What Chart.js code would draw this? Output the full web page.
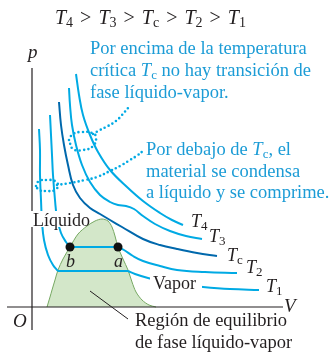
<!DOCTYPE html>
<html>
<head>
<meta charset="utf-8">
<script src="https://cdn.jsdelivr.net/npm/chart.js@4"></script>
<style>
  body { margin: 0; background: #fff; }
  #chart { display: block; }
</style>
</head>
<body>
<canvas id="chart" width="333" height="353"></canvas>
<script>
const ctx = document.getElementById("chart");

// isotherms, [V, p] (arbitrary units, origin at O)
const t4 = [[44,233],[47,212],[51,192],[58,172],[66,155],[78,137],[95,120],[111,106],[128,94],[140,87],[151,82]];
const t3 = [[37,219],[38,202],[40,182],[44,162],[50,142],[58,125],[68,112],[78,105],[86,102],[94,101],[102,98],[111,91],[123,83],[138,76],[154,71],[170,68]];
const tc = [[27,205],[29,182],[32,162],[36,142],[41,122],[48,109],[58,99],[68,93],[78,87],[90,80],[111,68],[128,62],[145,58],[165,54],[185,51]];
const t2Liquid = [[18,192],[19,172],[20,152],[21,132],[23,107],[25,89],[29,74],[34,65],[38,60]];
const t2Vapor = [[86,60],[92,57],[101,51],[111,46],[128,41],[145,37],[173,35],[205,34]];
const t1Liquid = [[7,178],[8,157],[8,132],[9,107],[10,85],[12,67],[16,52],[21,42],[26,36]];
const t1Vapor = [[96,36],[103,33],[116,29],[133,25],[153,22],[171,20],[198,18],[227,17]];

// horizontal (coexistence) parts
const t2Plateau = [[38,60],[86,60]];
const t1Plateau = [[26,36],[96,36]];

// liquid-vapour dome
const dome = [[15,0],[18,10],[20,17],[23,27],[26,37],[31,48],[38,60],[46,73],[55,81],[63,86],[70,88],[76,86],[80,80],[83,71],[86,60],[91,48],[96,37],[100,25],[104,15],[110,7],[117,2],[124,0]];

// states b and a
const states = [[38,60],[86,60]];

// dotted call-outs
const ringHigh = [[37,167],[41,173],[50,175],[60,174],[64,170],[61,161],[51,157],[41,158],[37,167]];
const tailHigh = [[61,173],[68,177],[76,181],[84,186],[90,192],[96,199]];
const ringLow = [[4,121],[7,126],[15,127],[23,126],[26,122],[23,117],[15,116],[7,117],[4,121]];
const tailLow = [[25,122],[38,124],[53,127],[65,130],[78,136],[88,141],[98,147],[106,152],[111,156]];

// axes and pointer
const axisP = [[0,-23],[0,239]];
const axisV = [[-25,0],[251,0]];
const pointer = [[58,16],[96,-12]];

const light = "rgb(0,170,228)";
const dark = "rgb(0,104,172)";
const textBlue = "rgb(28,156,214)";

function pts(arr) {
  return arr.map(([x, y]) => ({ x, y }));
}

function line(arr, color, width, order, extra) {
  return Object.assign({
    data: pts(arr),
    showLine: true,
    borderColor: color,
    borderWidth: width,
    pointRadius: 0,
    tension: 0.4,
    fill: false,
    order: order,
  }, extra || {});
}

const dotted = { borderDash: [0, 4.4], borderCapStyle: "round", tension: 0.5 };

// draw a row of text pieces: "i" italic, "s" subscript, number = extra gap
function runs(c, x, y, parts, size, color) {
  c.fillStyle = color;
  c.textAlign = "left";
  c.textBaseline = "alphabetic";
  for (const [t, s] of parts) {
    if (typeof t === "number") { x += t; continue; }
    const sub = s === "s";
    c.font = (s === "i" ? "italic " : "") + (sub ? Math.round(size * 0.7) : size) + "px 'Liberation Serif'";
    c.fillText(t, x, y + (sub ? 3 : 0));
    x += c.measureText(t).width;
  }
  return x;
}

const gt = [[7], [">", ""], [7]];

const labels = {
  id: "labels",
  afterDatasetsDraw(chart) {
    const c = chart.ctx;
    c.save();
    c.fillStyle = "#fff";
    c.fillRect(31, 211, 40, 16);
    c.fillRect(150, 276, 52, 15);

    const k = "#231f20";
    runs(c, 55, 24, [["T","i"],["4","s"],...gt,["T","i"],["3","s"],...gt,["T","i"],["c","s"],...gt,["T","i"],["2","s"],...gt,["T","i"],["1","s"]], 20, k);
    runs(c, 28, 58, [["p","i"]], 19, k);
    runs(c, 284, 312, [["V","i"]], 19, k);
    runs(c, 13, 327, [["O","i"]], 19, k);
    runs(c, 33, 226, [["Líquido",""]], 18, k);
    runs(c, 66, 267, [["b","i"]], 18, k);
    runs(c, 114, 267, [["a","i"]], 18, k);
    runs(c, 153, 289, [["Vapor",""]], 18, k);
    runs(c, 135, 326, [["Región de equilibrio",""]], 18.5, k);
    runs(c, 135, 348, [["de fase líquido-vapor",""]], 18.5, k);

    runs(c, 191, 227, [["T","i"],["4","s"]], 18, k);
    runs(c, 209, 242, [["T","i"],["3","s"]], 18, k);
    runs(c, 227, 261, [["T","i"],["c","s"]], 18, k);
    runs(c, 246, 273, [["T","i"],["2","s"]], 18, k);
    runs(c, 266, 292, [["T","i"],["1","s"]], 18, k);

    runs(c, 90, 54, [["Por encima de la temperatura",""]], 18.5, textBlue);
    runs(c, 90, 76, [["crítica ",""],["T","i"],["c","s"],[" no hay transición de",""]], 18.5, textBlue);
    runs(c, 90, 98, [["fase líquido-vapor.",""]], 18.5, textBlue);
    runs(c, 146, 155, [["Por debajo de ",""],["T","i"],["c","s"],[", el",""]], 18.5, textBlue);
    runs(c, 146, 177, [["material se condensa",""]], 18.5, textBlue);
    runs(c, 146, 198, [["a líquido y se comprime.",""]], 18.5, textBlue);
    c.restore();
  },
};

new Chart(ctx, {
  type: "scatter",
  data: {
    datasets: [
      {
        data: pts(states),
        pointRadius: 4.5,
        pointBackgroundColor: "#111",
        pointBorderWidth: 0,
        showLine: false,
        order: 0,
      },
      line(t4, light, 2, 3),
      line(t3, light, 2, 3),
      line(tc, dark, 2, 3),
      line(t2Liquid, light, 2, 3),
      line(t2Plateau, light, 2, 3),
      line(t2Vapor, light, 2, 3),
      line(t1Liquid, light, 2, 3),
      line(t1Plateau, light, 2, 3),
      line(t1Vapor, light, 2, 3),
      line(ringHigh, light, 2.6, 2, dotted),
      line(tailHigh, light, 2.6, 2, dotted),
      line(ringLow, light, 2.6, 2, dotted),
      line(tailLow, light, 2.6, 2, dotted),
      line(axisP, "#231f20", 1.2, 4, { tension: 0 }),
      line(axisV, "#231f20", 1.2, 4, { tension: 0 }),
      line(pointer, "#231f20", 1, 4, { tension: 0 }),
      line(dome, "rgb(118,168,98)", 1, 10, {
        fill: "origin",
        backgroundColor: "rgb(211,231,201)",
        tension: 0.3,
      }),
    ],
  },
  options: {
    responsive: false,
    animation: false,
    layout: { padding: 0, autoPadding: false },
    scales: {
      x: { type: "linear", min: -32, max: 301, display: false },
      y: { type: "linear", min: -46, max: 307, display: false },
    },
    plugins: {
      legend: { display: false },
      tooltip: { enabled: false },
    },
  },
  plugins: [labels],
});
</script>
</body>
</html>
